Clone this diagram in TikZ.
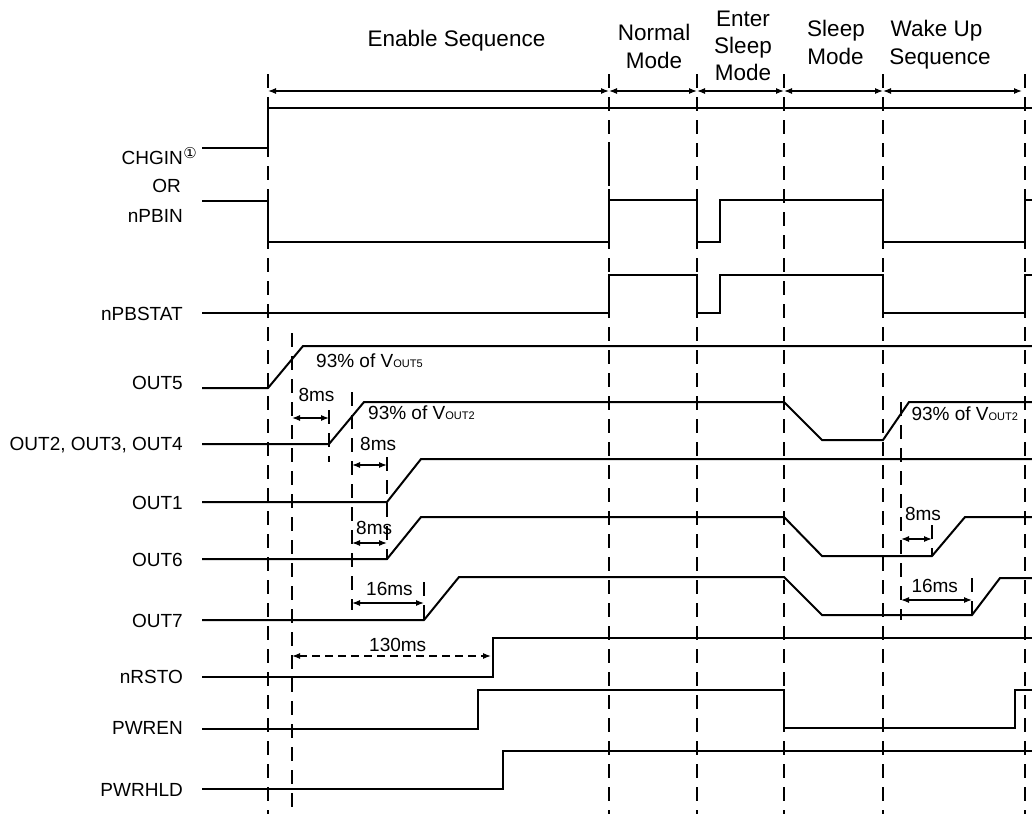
\documentclass[tikz,border=0pt]{standalone}
\usepackage{fontspec}
\setmainfont{Liberation Sans}
\newfontfamily\dejavu{DejaVu Sans}
\usetikzlibrary{arrows.meta}
\begin{document}
\begin{tikzpicture}[x=1pt,y=-1pt,
  sig/.style={line width=2pt, line join=miter},
  vgrid/.style={line width=1.8pt, dash pattern=on 14pt off 9pt},
  dim/.style={line width=1.2pt, {Latex[length=8pt,width=6pt]}-{Latex[length=8pt,width=6pt]}},
  lbl/.style={inner sep=0pt, anchor=base east, font=\fontsize{19}{23}\selectfont},
  hd/.style={inner sep=0pt, anchor=base, font=\fontsize{22.5}{27}\selectfont},
  note/.style={inner sep=0pt, anchor=base west, font=\fontsize{19}{23}\selectfont}
]
\useasboundingbox (0,0) rectangle (1032,814);

% header texts
\node[hd] (hEnable) at (456.5,46) {Enable Sequence};
\node[hd] (hNormA) at (654,40) {Normal};
\node[hd] (hNormB) at (654,68) {Mode};
\node[hd] (hEnterA) at (743,26) {Enter};
\node[hd] (hEnterB) at (743,53) {Sleep};
\node[hd] (hEnterC) at (743,80) {Mode};
\node[hd] (hSleepA) at (836,36.7) {Sleep};
\node[hd] (hSleepB) at (835.5,64) {Mode};
\node[hd] (hWakeA) at (936.5,36.7) {Wake Up};
\node[hd] (hWakeB) at (940,64) {Sequence};

% vertical dashed phase boundaries
\foreach \x in {268,609,697,784,883,1025}
  \draw[vgrid] (\x,74) -- (\x,814);
% other dashed markers
\draw[vgrid] (292,333) -- (292,814);
\draw[vgrid] (329,410) -- (329,462);
\draw[vgrid] (352,392) -- (352,610);
\draw[vgrid] (387,457) -- (387,560);
\draw[vgrid] (424,582) -- (424,625);
\draw[vgrid] (901,402) -- (901,620);
\draw[vgrid] (932,525) -- (932,556);
\draw[vgrid] (972,578) -- (972,615);

% phase arrows
\draw[dim] (268,91) -- (609,91);
\draw[dim] (609,91) -- (697,91);
\draw[dim] (697,91) -- (784,91);
\draw[dim] (784,91) -- (883,91);
\draw[dim] (883,91) -- (1022,91);

% signal labels
\node[lbl] (lChg) at (183,164) {CHGIN\rlap{\kern0.5pt\raisebox{6pt}{\dejavu\fontsize{15}{16}\selectfont ①}}};
\node[inner sep=0pt, anchor=base, font=\fontsize{19}{23}\selectfont] (lOr) at (166.5,192) {OR};
\node[lbl] (lPbin) at (183,222) {nPBIN};
\node[lbl] (lPbstat) at (183,320) {nPBSTAT};
\node[lbl] (lOut5) at (183,389) {OUT5};
\node[lbl] (lOut234) at (183,450) {OUT2, OUT3, OUT4};
\node[lbl] (lOut1) at (183,509) {OUT1};
\node[lbl] (lOut6) at (183,566) {OUT6};
\node[lbl] (lOut7) at (183,627) {OUT7};
\node[lbl] (lRsto) at (183,683) {nRSTO};
\node[lbl] (lPwren) at (183,734) {PWREN};
\node[lbl] (lPwrhld) at (183,796) {PWRHLD};

% waveforms
\draw[sig] (202,148) -- (268,148) -- (268,108) -- (1032,108);
\draw[sig] (609,142) -- (609,186);
\draw[sig] (202,201) -- (268,201) -- (268,242) -- (609,242) -- (609,200) -- (697,200) -- (697,242) -- (720,242) -- (720,200) -- (883,200) -- (883,242) -- (1025,242) -- (1025,200) -- (1032,200);
\draw[sig] (202,313) -- (609,313) -- (609,275) -- (697,275) -- (697,313) -- (720,313) -- (720,275) -- (883,275) -- (883,313) -- (1025,313) -- (1025,275) -- (1032,275);
\draw[sig] (202,388) -- (268,388) -- (303,346) -- (1032,346);
\draw[sig] (202,444) -- (329,444) -- (364,402) -- (784,402) -- (822,440) -- (883,440) -- (909,402) -- (1032,402);
\draw[sig] (202,502) -- (387,502) -- (421,459) -- (1032,459);
\draw[sig] (202,559) -- (387,559) -- (421,517) -- (784,517) -- (822,556) -- (932,556) -- (965,517) -- (1032,517);
\draw[sig] (202,620) -- (424,620) -- (459,577) -- (784,577) -- (822,615) -- (972,615) -- (1000,578) -- (1032,578);
\draw[sig] (202,677) -- (493,677) -- (493,638) -- (1032,638);
\draw[sig] (202,729) -- (478,729) -- (478,690) -- (784,690) -- (784,728) -- (1015,728) -- (1015,690) -- (1032,690);
\draw[sig] (202,789) -- (503,789) -- (503,751) -- (1032,751);

% timing arrows
\draw[dim] (292,418) -- (329,418);
\draw[dim] (352,465) -- (387,465);
\draw[dim] (352,543) -- (387,543);
\draw[dim] (352,603) -- (424,603);
\draw[dim] (901,539) -- (932,539);
\draw[dim] (901,600) -- (972,600);
\draw[dim, dash pattern=on 8pt off 5pt] (292,656) -- (491,656);

% annotations
\node[note] (n93a) at (316,367.3) {93\% of V{\fontsize{11}{13}\selectfont OUT5}};
\node[note] (n93b) at (368,419.3) {93\% of V{\fontsize{11}{13}\selectfont OUT2}};
\node[note] (n93c) at (911.3,420) {93\% of V{\fontsize{11}{13}\selectfont OUT2}};
\node[note] (t8a) at (298.3,401.7) {8ms};
\node[note] (t8b) at (360,450) {8ms};
\node[note] (t8c) at (356,534) {8ms};
\node[note] (t8d) at (904.8,520) {8ms};
\node[note] (t16a) at (366,595) {16ms};
\node[note] (t16b) at (911.3,592) {16ms};
\node[note] (t130) at (369,651.7) {130ms};
\end{tikzpicture}
\end{document}
